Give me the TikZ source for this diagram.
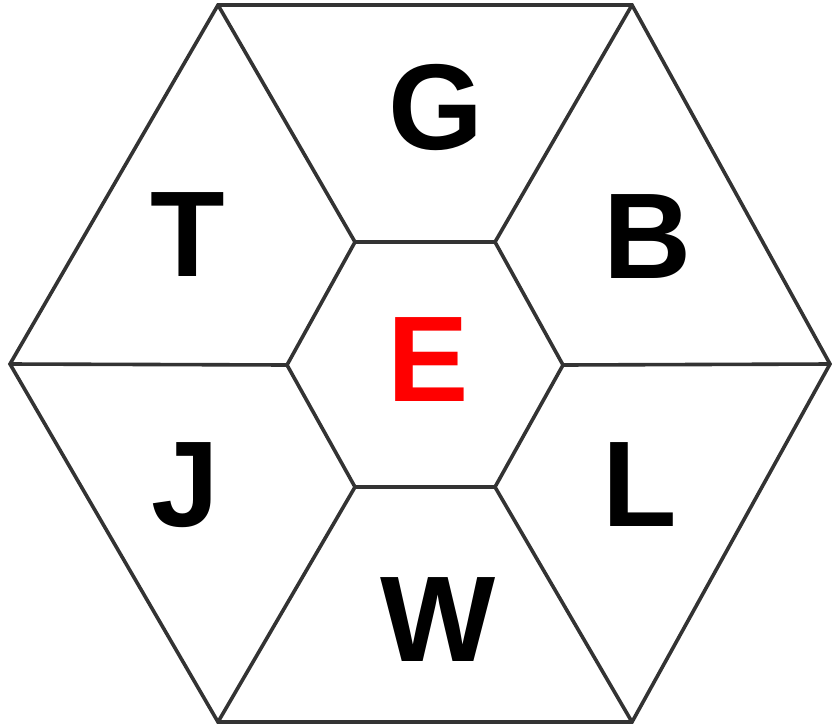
\documentclass[tikz,border=0pt]{standalone}
\usepackage{fontspec}
\setmainfont{Liberation Sans}
\definecolor{edgegray}{HTML}{333333}
\begin{document}
\begin{tikzpicture}[x=1pt,y=-1pt,
    cell/.style={draw=edgegray, line width=3.6pt, line join=miter},
    letter/.style={font=\fontsize{122}{122}\selectfont\bfseries, inner sep=0pt}]
   \useasboundingbox (0,0) rectangle (832,726);

   % Outer hexagon corners
   \coordinate (o1) at (218,5);
   \coordinate (o2) at (632,5);
   \coordinate (o3) at (830,364);
   \coordinate (o4) at (632,722);
   \coordinate (o5) at (218,722);
   \coordinate (o6) at (10,364);

   % Inner hexagon corners
   \coordinate (i1) at (355,242);
   \coordinate (i2) at (495,242);
   \coordinate (i3) at (563,365);
   \coordinate (i4) at (495,487);
   \coordinate (i5) at (355,487);
   \coordinate (i6) at (287,365);

   \draw[cell] (o1) -- (o2) -- (o3) -- (o4) -- (o5) -- (o6) -- cycle;
   \draw[cell] (i1) -- (i2) -- (i3) -- (i4) -- (i5) -- (i6) -- cycle;

   % Spokes from inner to outer corners
   \foreach \k in {1,...,6} {
       \draw[cell] (i\k) -- (o\k);
   }

   % Letters
   \node[letter] (g) at (436,107) {G};
   \node[letter] (t) at (188,235) {T};
   \node[letter] (b) at (648,237) {B};
   \node[letter, text=red] (e) at (428,360) {E};
   \node[letter] (j) at (185,485) {J};
   \node[letter] (l) at (640,485) {L};
   \node[letter] (w) at (438,620) {W};
\end{tikzpicture}
\end{document}
